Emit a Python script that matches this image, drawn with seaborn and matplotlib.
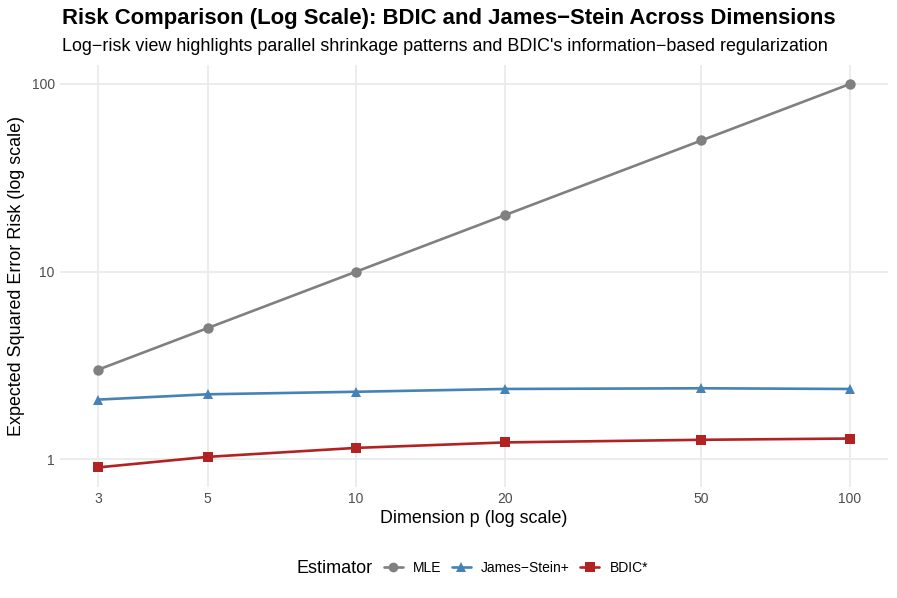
import numpy as np
import pandas as pd
import matplotlib
matplotlib.use("Agg")
import matplotlib.pyplot as plt
import seaborn as sns
from matplotlib.lines import Line2D
from matplotlib.ticker import FixedLocator, NullLocator, FixedFormatter

dims = [3, 5, 10, 20, 50, 100]
mle = [3, 5, 10, 20, 50, 100]
james_stein = [2.08, 2.22, 2.29, 2.37, 2.39, 2.37]
bdic = [0.905, 1.03, 1.15, 1.23, 1.27, 1.29]
estimators = ["MLE", "James\u2212Stein+", "BDIC*"]
colors = ["#808080", "#4682B4", "#B22222"]
marker_shapes = ["o", "^", "s"]
x_ticks = [3, 5, 10, 20, 50, 100]
y_ticks = [1, 10, 100]

df = pd.DataFrame({
    "p": dims * 3,
    "risk": mle + james_stein + bdic,
    "Estimator": [estimators[0]] * 6 + [estimators[1]] * 6 + [estimators[2]] * 6,
})

sns.set_theme(style="whitegrid")
plt.rcParams["font.family"] = ["Liberation Sans", "DejaVu Sans"]
plt.rcParams["text.color"] = "black"

fig = plt.figure(figsize=(8.97, 5.98), dpi=100)
ax = fig.add_axes([0.0673, 0.1863, 0.9895 - 0.0673, 0.8916 - 0.1863])

palette = dict(zip(estimators, colors))
mk = dict(zip(estimators, marker_shapes))
sns.lineplot(data=df, x="p", y="risk", hue="Estimator", style="Estimator",
             hue_order=estimators, style_order=estimators,
             palette=palette, markers=mk, dashes=False, linewidth=1.9,
             markersize=7.5, markeredgewidth=0, ax=ax, legend=False)

ax.set_xscale("log")
ax.set_yscale("log")
lx = np.log10([3, 100])
ex = (lx[1] - lx[0]) * 0.05
ax.set_xlim(10 ** (lx[0] - ex), 10 ** (lx[1] + ex))
ly = np.log10([min(bdic), 100])
ey = (ly[1] - ly[0]) * 0.05
ax.set_ylim(10 ** (ly[0] - ey), 10 ** (ly[1] + ey))

ax.xaxis.set_major_locator(FixedLocator(x_ticks))
ax.xaxis.set_major_formatter(FixedFormatter([str(t) for t in x_ticks]))
ax.xaxis.set_minor_locator(NullLocator())
ax.yaxis.set_major_locator(FixedLocator(y_ticks))
ax.yaxis.set_major_formatter(FixedFormatter([str(t) for t in y_ticks]))
ax.yaxis.set_minor_locator(NullLocator())

ax.set_facecolor("white")
for s in ax.spines.values():
    s.set_visible(False)
ax.grid(True, color="#EBEBEB", linewidth=1.3)
ax.tick_params(axis="both", length=0, labelsize=10, labelcolor="#4D4D4D", pad=4)

ax.set_xlabel("Dimension p (log scale)", fontsize=12.9, color="black", labelpad=3)
ax.set_ylabel("Expected Squared Error Risk (log scale)", fontsize=12.9, color="black", labelpad=5)

fig.text(0.0691, 0.969, "Risk Comparison (Log Scale): BDIC and James\u2212Stein Across Dimensions",
         fontsize=15.9, fontweight="bold", ha="left", va="center", color="black")
fig.text(0.0691, 0.923, "Log\u2212risk view highlights parallel shrinkage patterns and BDIC's information\u2212based regularization",
         fontsize=12.9, ha="left", va="center", color="black")

handles = [Line2D([0], [0], color=c, marker=m, linewidth=1.9, markersize=7, markeredgewidth=0)
           for c, m in zip(colors, marker_shapes)]
fig.text(0.331, 0.050, "Estimator", fontsize=13, ha="left", va="center", color="black")
leg = fig.legend(handles, estimators, ncol=3, loc="center left", bbox_to_anchor=(0.428, 0.050),
                 frameon=False, fontsize=10, handlelength=1.35, handletextpad=0.75, columnspacing=0.75,
                 borderaxespad=0, borderpad=0)
for t in leg.get_texts():
    t.set_color("black")

fig.savefig("out.png", dpi=100)
